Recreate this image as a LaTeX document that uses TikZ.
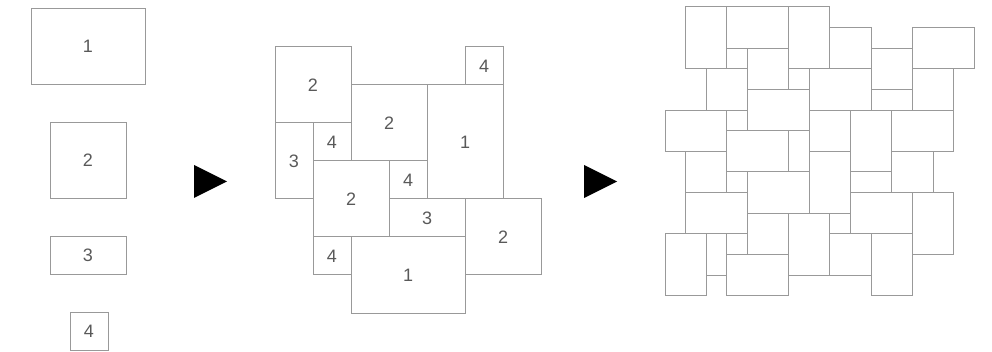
\documentclass[tikz,border=0pt]{standalone}
\usepackage{fontspec}
\setmainfont{Liberation Sans}
\tikzstyle{tile}=[draw=black!40, line width=1pt]
\tikzstyle{num}=[text=black!65, inner sep=0pt, font=\fontsize{18}{18}\selectfont]
\tikzstyle{piece}=[tile, num]
\tikzstyle{pointer}=[fill=black]

\begin{document}
\begin{tikzpicture}[x=1pt, y=-1pt]
	\useasboundingbox (0,0) rectangle (992,352);

	% The four loose stones
	\node[piece, minimum width=114pt, minimum height=76pt] (loose1) at (88, 46.5) {1};
	\node[piece, minimum width=76pt,  minimum height=76pt] (loose2) at (88,160.5) {2};
	\node[piece, minimum width=76pt,  minimum height=38pt] (loose3) at (88,255.5) {3};
	\node[piece, minimum width=38pt,  minimum height=38pt] (loose4) at (89,331)   {4};

	% Arrows
	\fill[pointer] (194,165) -- (227,181.5) -- (194,198) -- cycle;
	\fill[pointer] (584,165) -- (617,181.5) -- (584,198) -- cycle;

	% One module of the pattern
	\begin{scope}[shift={(275pt,-47pt)}, x=38pt, y=-38pt]
		\foreach \xa/\ya/\xb/\yb/\lab in {0/0/2/2/2, 5/0/6/1/4, 2/1/4/3/2, 4/1/6/4/1,
				0/2/1/4/3, 1/2/2/3/4, 1/3/3/5/2, 3/3/4/4/4, 3/4/5/5/3, 5/4/7/6/2,
				1/5/2/6/4, 2/5/5/7/1}{
			\draw[tile] (\xa,\ya) rectangle (\xb,\yb);
			\node[num] (m\xa\ya) at ({(\xa+\xb)/2},{(\ya+\yb)/2}) {\lab};
		}
	\end{scope}

	% The laid pattern
	\begin{scope}[shift={(665pt,-7pt)}, x=20.62pt, y=-20.62pt]
		\foreach \xa/\ya/\xb/\yb in {1/0/3/3, 3/0/6/2, 6/0/8/3, 8/1/10/3, 10/2/12/4,
				10/4/12/5, 12/1/15/3, 12/3/14/5, 7/3/10/5, 3/2/4/3, 4/2/6/4, 6/3/7/4,
				2/3/4/5, 4/4/7/6, 3/5/4/6, 0/5/3/7, 3/6/6/8, 6/6/7/8, 7/5/9/7,
				9/5/11/8, 11/5/14/7, 1/7/3/9, 3/8/4/9, 4/8/7/10, 7/7/9/10, 9/8/11/9,
				11/7/13/9, 1/9/4/11, 9/9/12/11, 12/9/14/12, 0/11/2/14, 2/11/3/13,
				3/11/4/12, 3/12/6/14, 4/10/6/12, 6/10/8/13, 8/10/9/11, 8/11/10/13,
				10/11/12/14}{
			\draw[tile] (\xa,\ya) rectangle (\xb,\yb);
		}
	\end{scope}
\end{tikzpicture}
\end{document}
